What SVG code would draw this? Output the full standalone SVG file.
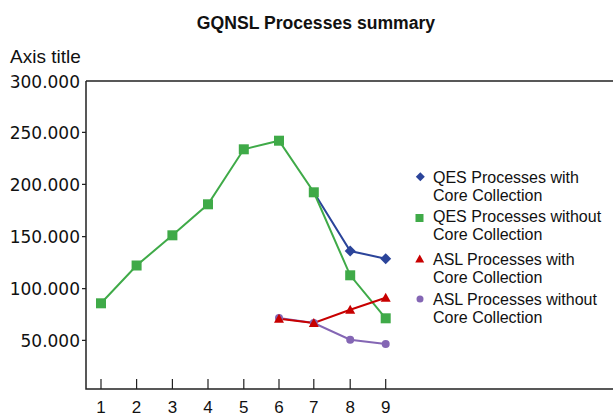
<svg xmlns="http://www.w3.org/2000/svg" width="613" height="415" viewBox="0 0 613 415">
<style>
text{font-family:"Liberation Sans",Arial,sans-serif;fill:#111}
.title{font-size:17.6px;font-weight:bold;text-anchor:middle}
.yl{font-family:"DejaVu Sans","Liberation Sans",sans-serif;font-size:17px;text-anchor:end}
.xl{font-size:17px;text-anchor:middle}
.lg{font-size:16px}
.ax{stroke:#222;stroke-width:1.5;fill:none}
.tk{stroke:#222;stroke-width:1.2}
.sb{stroke:#2B449A;stroke-width:2;fill:none}
.sg{stroke:#3FAA48;stroke-width:2;fill:none}
.sr{stroke:#C80000;stroke-width:2;fill:none}
.sp{stroke:#8466B4;stroke-width:2;fill:none}
</style>
<defs>
<path id="dia" d="M0,-5.5 L5.5,0 L0,5.5 L-5.5,0 Z" fill="#2B449A"/>
<rect id="sq" x="-5" y="-5" width="10" height="10" fill="#3FAA48"/>
<path id="tri" d="M0,-5 L5,4 L-5,4 Z" fill="#C80000"/>
<circle id="cir" r="4" fill="#8466B4"/>
<path id="ldia" d="M0,-4.5 L4.5,0 L0,4.5 L-4.5,0 Z" fill="#2B449A"/>
<rect id="lsq" x="-4" y="-4" width="8" height="8" fill="#3FAA48"/>
<path id="ltri" d="M0,-4.5 L4.5,3.5 L-4.5,3.5 Z" fill="#C80000"/>
<circle id="lcir" r="3.5" fill="#8466B4"/>
</defs>
<text class="title" x="316" y="29">GQNSL Processes summary</text>
<g id="axes">
<text x="10" y="62.5" style="font-size:19px">Axis title</text>
<path class="ax" d="M86,81 H613 M86,81 V389 H613"/>
<g class="tk">
<path d="M82,132.3 H86 M82,184.3 H86 M82,236.7 H86 M82,288.7 H86 M82,340.3 H86"/>
<path d="M101,379 V389 M136.6,379 V389 M172.4,379 V389 M208,379 V389 M243.8,379 V389 M279,379 V389 M313.8,379 V389 M350.2,379 V389 M385.7,379 V389"/>
</g>
<text class="yl" x="80" y="87.5">300.000</text>
<text class="yl" x="80" y="138.5">250.000</text>
<text class="yl" x="80" y="190.5">200.000</text>
<text class="yl" x="80" y="243">150.000</text>
<text class="yl" x="80" y="295">100.000</text>
<text class="yl" x="80" y="346.5">50.000</text>
<text class="xl" x="101" y="412.5">1</text>
<text class="xl" x="136.6" y="412.5">2</text>
<text class="xl" x="172.4" y="412.5">3</text>
<text class="xl" x="208" y="412.5">4</text>
<text class="xl" x="243.8" y="412.5">5</text>
<text class="xl" x="279" y="412.5">6</text>
<text class="xl" x="313.8" y="412.5">7</text>
<text class="xl" x="350.2" y="412.5">8</text>
<text class="xl" x="385.7" y="412.5">9</text>
</g>
<g id="connectors">
<polyline class="sb" points="313.8,192.3 350.2,251 385.7,258.7"/>
<polyline class="sg" points="101,303.3 136.6,265.5 172.4,235.3 208,204.3 243.8,149.3 279,140.7 313.8,192.3 350.2,275.3 385.7,318.3"/>
<polyline class="sp" points="279,318 313.8,323 350.2,339.7 385.7,344"/>
<polyline class="sr" points="279,318.7 313.8,323 350.2,309.7 385.7,297.7"/>
</g>
<g id="series-qes-with">
<use href="#dia" x="350.2" y="251"/>
<use href="#dia" x="385.7" y="258.7"/>
</g>
<g id="series-qes-without">
<use href="#sq" x="101" y="303.3"/>
<use href="#sq" x="136.6" y="265.5"/>
<use href="#sq" x="172.4" y="235.3"/>
<use href="#sq" x="208" y="204.3"/>
<use href="#sq" x="243.8" y="149.3"/>
<use href="#sq" x="279" y="140.7"/>
<use href="#sq" x="313.8" y="192.3"/>
<use href="#sq" x="350.2" y="275.3"/>
<use href="#sq" x="385.7" y="318.3"/>
</g>
<g id="series-asl-without">
<use href="#cir" x="279" y="318"/>
<use href="#cir" x="313.8" y="323"/>
<use href="#cir" x="350.2" y="339.7"/>
<use href="#cir" x="385.7" y="344"/>
</g>
<g id="series-asl-with">
<use href="#tri" x="279" y="318.7"/>
<use href="#tri" x="313.8" y="323"/>
<use href="#tri" x="350.2" y="309.7"/>
<use href="#tri" x="385.7" y="297.7"/>
</g>
<g id="legend">
<use href="#ldia" x="420.3" y="176.7"/>
<text class="lg" x="433" y="182.7">QES Processes with</text>
<text class="lg" x="433" y="201">Core Collection</text>
<use href="#lsq" x="419.5" y="218"/>
<text class="lg" x="433" y="221.5">QES Processes without</text>
<text class="lg" x="433" y="239.5">Core Collection</text>
<use href="#ltri" x="419.7" y="259"/>
<text class="lg" x="433" y="264.5">ASL Processes with</text>
<text class="lg" x="433" y="283">Core Collection</text>
<use href="#lcir" x="420" y="299"/>
<text class="lg" x="433" y="304.5">ASL Processes without</text>
<text class="lg" x="433" y="323">Core Collection</text>
</g>
</svg>
